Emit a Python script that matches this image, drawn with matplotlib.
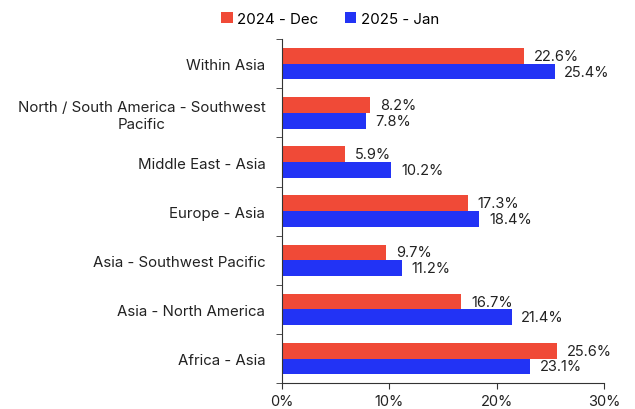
import numpy as np
import matplotlib.pyplot as plt

plt.rcParams['font.family'] = ['Inter', 'DejaVu Sans']

# Trade lanes (top to bottom as shown)
routes = ['Within Asia', 'North / South America - Southwest\nPacific', 'Middle East - Asia',
          'Europe - Asia', 'Asia - Southwest Pacific', 'Asia - North America', 'Africa - Asia']
dec_2024 = [22.6, 8.2, 5.9, 17.3, 9.7, 16.7, 25.6]
jan_2025 = [25.4, 7.8, 10.2, 18.4, 11.2, 21.4, 23.1]

red = '#F04A37'
blue = '#2233F5'

fig = plt.figure(figsize=(6.35, 4.10), dpi=100)
ax = fig.add_axes([0.444, 0.063, 0.507, 0.839])

y = np.arange(len(routes))[::-1]
h = 0.32
b1 = ax.barh(y + h / 2, dec_2024, height=h, color=red, label='2024 - Dec')
b2 = ax.barh(y - h / 2, jan_2025, height=h, color=blue, label='2025 - Jan')

for bars, vals in [(b1, dec_2024), (b2, jan_2025)]:
    for bar, v in zip(bars, vals):
        ax.annotate(f'{v:.1f}%', (v, bar.get_y() + bar.get_height() / 2),
                    xytext=(7, 0), textcoords='offset points',
                    ha='left', va='center', fontsize=10.5, color='#222222')

ax.set_xlim(0, 30)
ax.set_ylim(-0.5, len(routes) - 0.5)
ax.set_xticks([0, 10, 20, 30])
ax.set_xticklabels(['0%', '10%', '20%', '30%'], fontsize=10.5, color='#222222')
ax.set_yticks(y)
ax.set_yticklabels(routes, fontsize=10.8, color='#222222', multialignment='center')
ax.set_yticks(np.arange(-0.5, len(routes)), minor=True)
ax.tick_params(axis='y', which='major', length=0, pad=12)
ax.tick_params(axis='y', which='minor', length=4, color='#333333')
ax.tick_params(axis='x', length=4, color='#333333')
for s in ['top', 'right']:
    ax.spines[s].set_visible(False)
for s in ['left', 'bottom']:
    ax.spines[s].set_color('#333333')

ax.legend(loc='lower center', bbox_to_anchor=(0.15, 1.0), ncol=2, frameon=False,
          fontsize=10.8, handlelength=0.75, handleheight=0.75, handletextpad=0.3,
          columnspacing=1.8, bbox_transform=ax.transAxes)

plt.savefig('out.png', dpi=100)
